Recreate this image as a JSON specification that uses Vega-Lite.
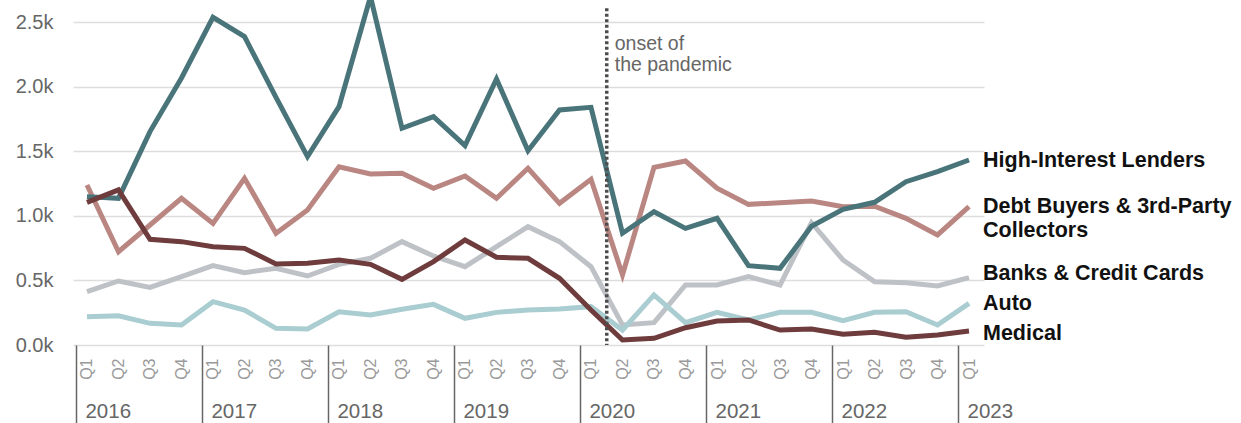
{
  "$schema": "https://vega.github.io/schema/vega-lite/v6.json",
  "width": 911,
  "height": 345,
  "autosize": {"type": "none"},
  "padding": {"left": 73, "top": 0, "right": 257, "bottom": 78},
  "background": "white",
  "config": {"view": {"stroke": null}, "font": "Liberation Sans"},
  "datasets": {
    "series": [
      {"series":"Banks & Credit Cards","t":0,"value":413},{"series":"Banks & Credit Cards","t":1,"value":496},{"series":"Banks & Credit Cards","t":2,"value":447},{"series":"Banks & Credit Cards","t":3,"value":530},{"series":"Banks & Credit Cards","t":4,"value":615},{"series":"Banks & Credit Cards","t":5,"value":561},{"series":"Banks & Credit Cards","t":6,"value":594},{"series":"Banks & Credit Cards","t":7,"value":535},{"series":"Banks & Credit Cards","t":8,"value":625},{"series":"Banks & Credit Cards","t":9,"value":672},{"series":"Banks & Credit Cards","t":10,"value":801},{"series":"Banks & Credit Cards","t":11,"value":690},{"series":"Banks & Credit Cards","t":12,"value":607},{"series":"Banks & Credit Cards","t":13,"value":762},{"series":"Banks & Credit Cards","t":14,"value":917},{"series":"Banks & Credit Cards","t":15,"value":801},{"series":"Banks & Credit Cards","t":16,"value":607},{"series":"Banks & Credit Cards","t":17,"value":155},{"series":"Banks & Credit Cards","t":18,"value":173},{"series":"Banks & Credit Cards","t":19,"value":465},{"series":"Banks & Credit Cards","t":20,"value":465},{"series":"Banks & Credit Cards","t":21,"value":530},{"series":"Banks & Credit Cards","t":22,"value":465},{"series":"Banks & Credit Cards","t":23,"value":948},{"series":"Banks & Credit Cards","t":24,"value":659},{"series":"Banks & Credit Cards","t":25,"value":491},{"series":"Banks & Credit Cards","t":26,"value":483},{"series":"Banks & Credit Cards","t":27,"value":457},{"series":"Banks & Credit Cards","t":28,"value":522},
      {"series":"Auto","t":0,"value":219},{"series":"Auto","t":1,"value":227},{"series":"Auto","t":2,"value":168},{"series":"Auto","t":3,"value":155},{"series":"Auto","t":4,"value":336},{"series":"Auto","t":5,"value":271},{"series":"Auto","t":6,"value":129},{"series":"Auto","t":7,"value":124},{"series":"Auto","t":8,"value":258},{"series":"Auto","t":9,"value":233},{"series":"Auto","t":10,"value":277},{"series":"Auto","t":11,"value":315},{"series":"Auto","t":12,"value":207},{"series":"Auto","t":13,"value":253},{"series":"Auto","t":14,"value":271},{"series":"Auto","t":15,"value":279},{"series":"Auto","t":16,"value":297},{"series":"Auto","t":17,"value":116},{"series":"Auto","t":18,"value":388},{"series":"Auto","t":19,"value":173},{"series":"Auto","t":20,"value":253},{"series":"Auto","t":21,"value":194},{"series":"Auto","t":22,"value":253},{"series":"Auto","t":23,"value":253},{"series":"Auto","t":24,"value":189},{"series":"Auto","t":25,"value":253},{"series":"Auto","t":26,"value":258},{"series":"Auto","t":27,"value":155},{"series":"Auto","t":28,"value":323},
      {"series":"Debt Buyers & 3rd-Party Collectors","t":0,"value":1240},{"series":"Debt Buyers & 3rd-Party Collectors","t":1,"value":723},{"series":"Debt Buyers & 3rd-Party Collectors","t":2,"value":930},{"series":"Debt Buyers & 3rd-Party Collectors","t":3,"value":1137},{"series":"Debt Buyers & 3rd-Party Collectors","t":4,"value":943},{"series":"Debt Buyers & 3rd-Party Collectors","t":5,"value":1292},{"series":"Debt Buyers & 3rd-Party Collectors","t":6,"value":866},{"series":"Debt Buyers & 3rd-Party Collectors","t":7,"value":1047},{"series":"Debt Buyers & 3rd-Party Collectors","t":8,"value":1382},{"series":"Debt Buyers & 3rd-Party Collectors","t":9,"value":1326},{"series":"Debt Buyers & 3rd-Party Collectors","t":10,"value":1331},{"series":"Debt Buyers & 3rd-Party Collectors","t":11,"value":1215},{"series":"Debt Buyers & 3rd-Party Collectors","t":12,"value":1310},{"series":"Debt Buyers & 3rd-Party Collectors","t":13,"value":1137},{"series":"Debt Buyers & 3rd-Party Collectors","t":14,"value":1370},{"series":"Debt Buyers & 3rd-Party Collectors","t":15,"value":1098},{"series":"Debt Buyers & 3rd-Party Collectors","t":16,"value":1284},{"series":"Debt Buyers & 3rd-Party Collectors","t":17,"value":543},{"series":"Debt Buyers & 3rd-Party Collectors","t":18,"value":1377},{"series":"Debt Buyers & 3rd-Party Collectors","t":19,"value":1426},{"series":"Debt Buyers & 3rd-Party Collectors","t":20,"value":1215},{"series":"Debt Buyers & 3rd-Party Collectors","t":21,"value":1090},{"series":"Debt Buyers & 3rd-Party Collectors","t":22,"value":1103},{"series":"Debt Buyers & 3rd-Party Collectors","t":23,"value":1116},{"series":"Debt Buyers & 3rd-Party Collectors","t":24,"value":1072},{"series":"Debt Buyers & 3rd-Party Collectors","t":25,"value":1076},{"series":"Debt Buyers & 3rd-Party Collectors","t":26,"value":982},{"series":"Debt Buyers & 3rd-Party Collectors","t":27,"value":853},{"series":"Debt Buyers & 3rd-Party Collectors","t":28,"value":1072},
      {"series":"High-Interest Lenders","t":0,"value":1150},{"series":"High-Interest Lenders","t":1,"value":1137},{"series":"High-Interest Lenders","t":2,"value":1654},{"series":"High-Interest Lenders","t":3,"value":2070},{"series":"High-Interest Lenders","t":4,"value":2540},{"series":"High-Interest Lenders","t":5,"value":2390},{"series":"High-Interest Lenders","t":6,"value":1920},{"series":"High-Interest Lenders","t":7,"value":1460},{"series":"High-Interest Lenders","t":8,"value":1847},{"series":"High-Interest Lenders","t":9,"value":2700},{"series":"High-Interest Lenders","t":10,"value":1680},{"series":"High-Interest Lenders","t":11,"value":1770},{"series":"High-Interest Lenders","t":12,"value":1545},{"series":"High-Interest Lenders","t":13,"value":2062},{"series":"High-Interest Lenders","t":14,"value":1506},{"series":"High-Interest Lenders","t":15,"value":1822},{"series":"High-Interest Lenders","t":16,"value":1842},{"series":"High-Interest Lenders","t":17,"value":866},{"series":"High-Interest Lenders","t":18,"value":1033},{"series":"High-Interest Lenders","t":19,"value":904},{"series":"High-Interest Lenders","t":20,"value":982},{"series":"High-Interest Lenders","t":21,"value":615},{"series":"High-Interest Lenders","t":22,"value":594},{"series":"High-Interest Lenders","t":23,"value":920},{"series":"High-Interest Lenders","t":24,"value":1052},{"series":"High-Interest Lenders","t":25,"value":1106},{"series":"High-Interest Lenders","t":26,"value":1266},{"series":"High-Interest Lenders","t":27,"value":1344},{"series":"High-Interest Lenders","t":28,"value":1434},
      {"series":"Medical","t":0,"value":1106},{"series":"Medical","t":1,"value":1202},{"series":"Medical","t":2,"value":819},{"series":"Medical","t":3,"value":801},{"series":"Medical","t":4,"value":762},{"series":"Medical","t":5,"value":749},{"series":"Medical","t":6,"value":628},{"series":"Medical","t":7,"value":633},{"series":"Medical","t":8,"value":659},{"series":"Medical","t":9,"value":625},{"series":"Medical","t":10,"value":509},{"series":"Medical","t":11,"value":646},{"series":"Medical","t":12,"value":814},{"series":"Medical","t":13,"value":680},{"series":"Medical","t":14,"value":672},{"series":"Medical","t":15,"value":517},{"series":"Medical","t":16,"value":271},{"series":"Medical","t":17,"value":39},{"series":"Medical","t":18,"value":52},{"series":"Medical","t":19,"value":134},{"series":"Medical","t":20,"value":186},{"series":"Medical","t":21,"value":194},{"series":"Medical","t":22,"value":116},{"series":"Medical","t":23,"value":124},{"series":"Medical","t":24,"value":83},{"series":"Medical","t":25,"value":98},{"series":"Medical","t":26,"value":60},{"series":"Medical","t":27,"value":78},{"series":"Medical","t":28,"value":109}
    ],
    "events": [{"event": "onset of the pandemic", "t": 16.5}]
  },
  "layer": [
    {
      "data": {"name": "series"},
      "mark": {"type": "line", "strokeWidth": 5, "clip": true, "strokeJoin": "miter"},
      "encoding": {
        "x": {
          "field": "t", "type": "quantitative",
          "scale": {"domain": [-0.444, 28.476], "nice": false, "zero": false},
          "axis": {
            "orient": "bottom", "title": null, "values": [0,1,2,3,4,5,6,7,8,9,10,11,12,13,14,15,16,17,18,19,20,21,22,23,24,25,26,27,28],
            "labelExpr": "'Q' + (datum.value % 4 + 1)", "labelAngle": -90, "labelFontSize": 16, "labelColor": "#999999",
            "ticks": false, "domain": false, "grid": false, "labelPadding": 13, "labelFlush": false, "labelOverlap": false
          }
        },
        "y": {
          "field": "value", "type": "quantitative",
          "scale": {"domain": [0, 2674], "nice": false, "zero": true},
          "axis": {
            "title": null, "values": [0, 500, 1000, 1500, 2000, 2500],
            "labelExpr": "format(datum.value / 1000, '.1f') + 'k'", "labelFontSize": 20, "labelColor": "#666666",
            "labelPadding": 20, "ticks": false, "domain": false, "gridColor": "#dddddd", "gridWidth": 1.5
          }
        },
        "color": {
          "field": "series", "type": "nominal", "legend": null,
          "scale": {
            "domain": ["Banks & Credit Cards", "Auto", "Debt Buyers & 3rd-Party Collectors", "High-Interest Lenders", "Medical"],
            "range": ["#bec2c7", "#a9cdd0", "#ba8682", "#49747a", "#6e3c3c"]
          }
        }
      }
    },
    {
      "data": {"name": "events"},
      "mark": {"type": "rule", "strokeDash": [3, 2.5], "strokeWidth": 3.5, "color": "#4d4d4d"},
      "encoding": {
        "x": {
          "field": "t", "type": "quantitative",
          "axis": {
            "orient": "bottom", "title": null,
            "values": [-0.35, 3.65, 7.65, 11.65, 15.65, 19.65, 23.65, 27.65],
            "labelExpr": "2016 + round((datum.value + 0.35) / 4)",
            "tickSize": 78, "tickColor": "#666666", "tickWidth": 1.5,
            "labelAlign": "left", "labelBaseline": "alphabetic", "labelPadding": -6, "labelOffset": 9,
            "labelFontSize": 20.5, "labelColor": "#666666", "domain": false, "grid": false,
            "labelFlush": false, "labelOverlap": false
          }
        },
        "y": {"datum": 2610},
        "y2": {"datum": 0}
      }
    },
    {
      "data": {"name": "events"},
      "mark": {"type": "text", "align": "left", "baseline": "alphabetic", "dx": 8, "fontSize": 19.5, "color": "#666666", "lineHeight": 21},
      "encoding": {
        "x": {"field": "t", "type": "quantitative", "axis": null},
        "y": {"datum": 2287},
        "text": {"value": ["onset of", "the pandemic"]}
      }
    },
    {
      "data": {"name": "series"},
      "transform": [{"filter": "datum.t == 28 && (datum.series == 'High-Interest Lenders' || datum.series == 'Auto')"}],
      "mark": {"type": "text", "align": "left", "baseline": "middle", "dx": 14, "dy": 1, "fontSize": 21.5, "fontWeight": "bold", "color": "#111111"},
      "encoding": {
        "x": {"field": "t", "type": "quantitative", "axis": null},
        "y": {"field": "value", "type": "quantitative"},
        "text": {"field": "series"}
      }
    },
    {
      "data": {"name": "series"},
      "transform": [{"filter": "datum.t == 28 && datum.series == 'Medical'"}],
      "mark": {"type": "text", "align": "left", "baseline": "middle", "dx": 14, "dy": 3, "fontSize": 21.5, "fontWeight": "bold", "color": "#111111"},
      "encoding": {
        "x": {"field": "t", "type": "quantitative", "axis": null},
        "y": {"field": "value", "type": "quantitative"},
        "text": {"field": "series"}
      }
    },
    {
      "data": {"name": "series"},
      "transform": [{"filter": "datum.t == 28 && datum.series == 'Banks & Credit Cards'"}],
      "mark": {"type": "text", "align": "left", "baseline": "middle", "dx": 14, "dy": -4, "fontSize": 21.5, "fontWeight": "bold", "color": "#111111"},
      "encoding": {
        "x": {"field": "t", "type": "quantitative", "axis": null},
        "y": {"field": "value", "type": "quantitative"},
        "text": {"field": "series"}
      }
    },
    {
      "data": {"name": "series"},
      "transform": [{"filter": "datum.t == 28 && datum.series == 'Debt Buyers & 3rd-Party Collectors'"}],
      "mark": {"type": "text", "align": "left", "baseline": "middle", "dx": 14, "dy": 0, "fontSize": 21.5, "fontWeight": "bold", "color": "#111111", "lineHeight": 24},
      "encoding": {
        "x": {"field": "t", "type": "quantitative", "axis": null},
        "y": {"field": "value", "type": "quantitative"},
        "text": {"value": ["Debt Buyers & 3rd-Party", "Collectors"]}
      }
    }
  ],
  "resolve": {"axis": {"x": "independent"}}
}
